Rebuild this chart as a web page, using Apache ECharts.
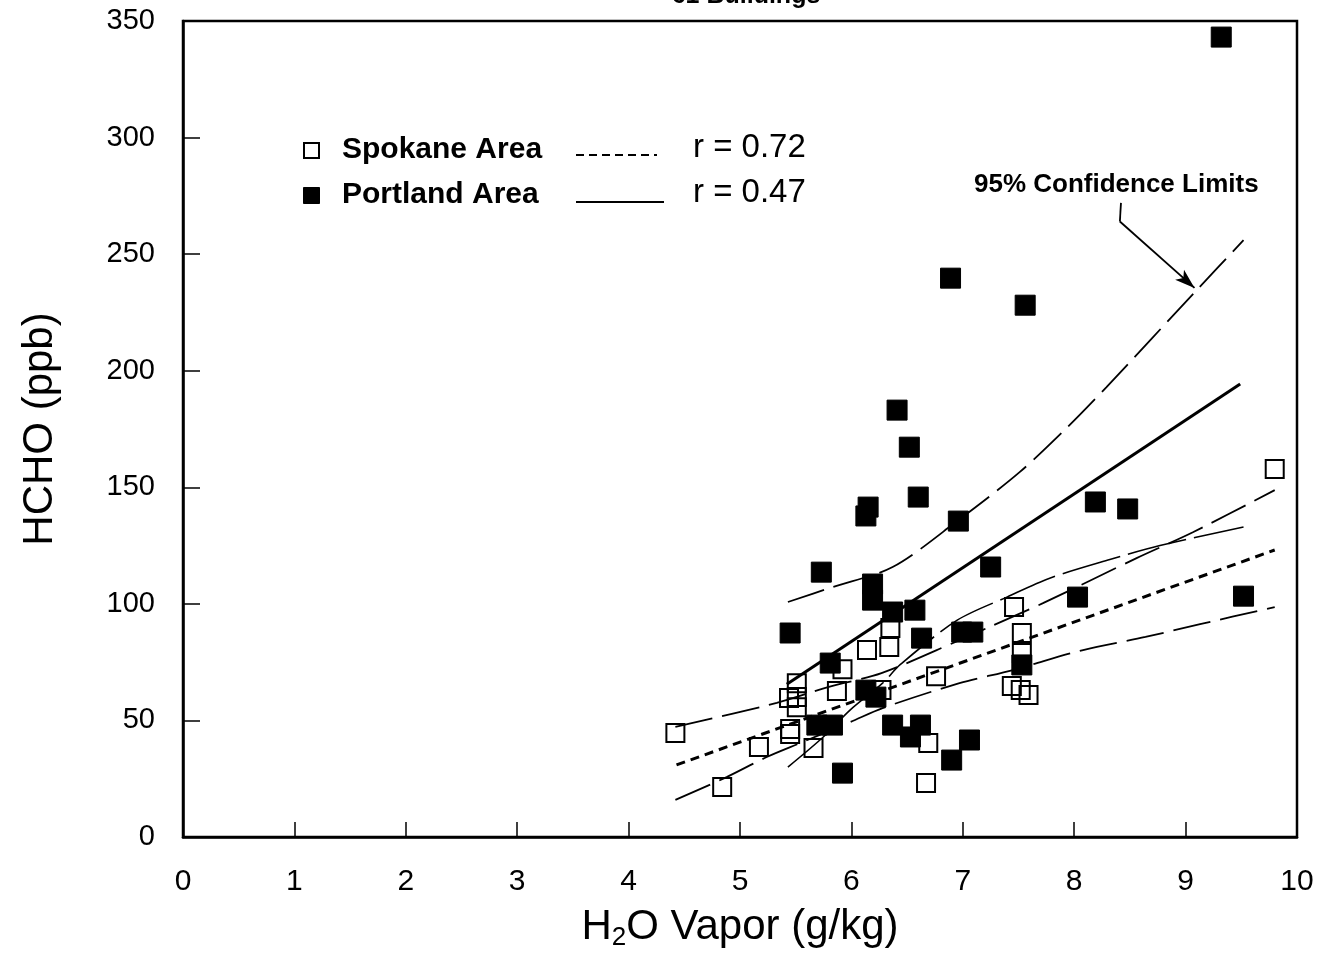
<!DOCTYPE html>
<html>
<head>
<meta charset="utf-8">
<script src="https://cdn.jsdelivr.net/npm/echarts/dist/echarts.min.js"></script>
<style>
html,body{margin:0;padding:0;background:#fff;}
#chart{width:1317px;height:954px;}
</style>
</head>
<body>
<div id="chart"></div>
<script>
// ---- data ----
const titleText = '61 Buildings';
const xTicks = [0,1,2,3,4,5,6,7,8,9,10];
const yTicks = [0,50,100,150,200,250,300,350];

const spokanePoints = [
  [9.80,157.8],[7.46,98.6],[7.53,87.5],[7.53,78.9],[7.44,64.8],[7.52,63.0],[7.59,60.9],
  [6.76,69.0],[6.35,89.6],[6.34,81.5],[6.14,80.2],[6.27,63.0],[6.69,40.3],[6.67,23.2],
  [4.42,44.6],[4.84,21.4],[5.17,38.6],[5.45,46.3],[5.45,44.2],[5.51,66.0],[5.44,59.6],
  [5.51,60.0],[5.51,55.7],[5.87,62.6],[5.92,72.0],[5.66,38.2]
];
const portlandPoints = [
  [9.32,343.1],[6.89,239.7],[7.56,228.1],[6.41,183.1],[6.52,167.2],[6.60,145.8],
  [6.15,141.5],[6.13,137.7],[6.96,135.5],[8.19,143.7],[8.48,140.7],[5.73,113.6],
  [7.25,115.8],[6.19,108.5],[6.19,101.6],[6.37,96.5],[6.57,97.3],[9.52,103.3],
  [8.03,102.9],[5.45,87.5],[6.63,85.3],[6.99,87.9],[7.09,87.9],[5.81,74.6],
  [6.13,63.0],[6.22,60.0],[5.69,48.0],[5.83,48.0],[5.92,27.4],[6.37,48.0],
  [6.62,48.0],[6.53,42.9],[7.06,41.6],[6.90,33.0],[7.53,73.8]
];
const spokaneFit = [[4.43,30.9],[9.80,123.1]];
const spokaneUpper = [[4.42,47.2],[5.33,57.5],[5.79,64.3],[6.27,70.3],[6.95,84.0],[7.24,90.1],[7.72,100.3],[8.56,119.6],[9.07,130.8],[9.80,148.8]];
const spokaneLower = [[4.42,15.9],[4.88,25.7],[5.24,34.3],[5.54,40.3],[5.99,49.3],[6.28,55.3],[6.97,66.0],[7.45,71.6],[8.08,80.2],[8.64,85.8],[9.13,91.3],[9.80,98.6]];
const portlandFit = [[5.42,65.5],[9.49,194.3]];
const portlandUpper = [[5.43,100.8],[5.83,107.2],[6.37,115.8],[6.96,135.9],[7.51,156.5],[7.94,175.8],[8.29,193.0],[9.10,234.6],[9.52,256.0]];
const portlandLower = [[5.43,30.0],[5.75,43.0],[5.99,54.5],[6.28,66.0],[6.44,74.0],[6.95,93.0],[7.40,103.0],[7.78,111.0],[8.32,119.0],[8.77,125.0],[9.52,133.0]];
const leaderPath = [[8.42,272],[8.41,264]];
const leaderArrow = [[8.41,264],[9.08,235.5]];

const legendRows = [
  {name:'Spokane Area', r:'r = 0.72'},
  {name:'Portland Area', r:'r = 0.47'}
];
const annotationText = '95% Confidence Limits';

// ---- chart ----
const FONT = '"Liberation Sans", Arial, Helvetica, sans-serif';
const chart = echarts.init(document.getElementById('chart'), null, {renderer:'canvas'});

function ciLine(data, dash, width, smooth){
  return {
    type:'line', data:data, symbol:'none', smooth:smooth, silent:true, z:3,
    lineStyle:{color:'#000', width:width, type:dash}
  };
}

const option = {
  backgroundColor:'#fff',
  animation:false,
  title:{
    text:titleText, left:741, textAlign:'center', top:-21,
    textStyle:{fontFamily:FONT, fontWeight:'bold', fontSize:25, color:'#000'}
  },
  grid:{left:183, right:20, top:21, bottom:117, outerBoundsMode:'none', containLabel:false,
        show:true, borderColor:'#000', borderWidth:2.5, backgroundColor:'transparent'},
  xAxis:{
    type:'value', min:xTicks[0], max:xTicks[xTicks.length-1], interval:1,
    name:'{n|H}{s|2}{n|O Vapor (g/kg)}', nameLocation:'middle', nameGap:66,
    nameTextStyle:{rich:{
      n:{fontFamily:FONT, fontSize:42, color:'#000'},
      s:{fontFamily:FONT, fontSize:26, color:'#000', verticalAlign:'bottom', padding:[22,0,0,0]}
    }},
    axisLine:{lineStyle:{color:'#000', width:2.5}},
    axisTick:{inside:true, length:15, lineStyle:{color:'#000', width:1.5}},
    splitLine:{show:false},
    axisLabel:{fontFamily:FONT, fontSize:30, color:'#000', margin:30}
  },
  yAxis:{
    type:'value', min:yTicks[0], max:yTicks[yTicks.length-1], interval:50,
    name:'HCHO (ppb)', nameLocation:'middle', nameGap:122, nameRotate:90,
    nameTextStyle:{fontFamily:FONT, fontSize:42, color:'#000'},
    axisLine:{lineStyle:{color:'#000', width:2.5}},
    axisTick:{inside:true, length:17, lineStyle:{color:'#000', width:1.5}},
    splitLine:{show:false},
    axisLabel:{fontFamily:FONT, fontSize:29, color:'#000', margin:28}
  },
  series:[
    ciLine(spokaneUpper, [38,10], 1.8, 0.3),
    ciLine(spokaneLower, [38,10], 1.8, 0.3),
    ciLine(portlandUpper, [38,10], 1.8, 0.3),
    ciLine(portlandLower, [60,8], 1.6, 0.3),
    ciLine(spokaneFit, [9,6], 3, false),
    ciLine(portlandFit, 'solid', 3, false),
    {
      name:'Portland Area', type:'scatter', data:portlandPoints, symbol:'rect', symbolSize:20, z:5,
      itemStyle:{color:'#000', borderColor:'#000', borderWidth:1, opacity:1}
    },
    {
      name:'Spokane Area', type:'scatter', data:spokanePoints, symbol:'rect', symbolSize:18, z:6,
      itemStyle:{color:'rgba(255,255,255,0)', borderColor:'#000', borderWidth:2, opacity:1}
    },
    {
      type:'line', data:leaderPath, symbol:'none', silent:true, z:4,
      lineStyle:{color:'#000', width:1.8},
      markLine:{
        silent:true, symbol:['none','arrow'], symbolSize:[10,20], animation:false,
        label:{show:false},
        lineStyle:{color:'#000', width:1.8, type:'solid'},
        data:[[{coord:leaderArrow[0]},{coord:leaderArrow[1]}]]
      }
    }
  ],
  graphic:[
    // legend row 1
    {type:'rect', left:303, top:142, shape:{width:15, height:15}, style:{fill:'#fff', stroke:'#000', lineWidth:2}},
    {type:'text', left:342, top:135, style:{text:legendRows[0].name, font:'bold 30px '+FONT, fill:'#000'}},
    {type:'line', shape:{x1:576, y1:155, x2:657, y2:155}, style:{stroke:'#000', lineWidth:2, lineDash:[8,5]}},
    {type:'text', left:693, top:131, style:{text:legendRows[0].r, font:'33px '+FONT, fill:'#000'}},
    // legend row 2
    {type:'rect', left:303, top:187, shape:{width:16, height:16}, style:{fill:'#000', stroke:'#000', lineWidth:1}},
    {type:'text', left:342, top:180, style:{text:legendRows[1].name, font:'bold 30px '+FONT, fill:'#000'}},
    {type:'line', shape:{x1:576, y1:202, x2:664, y2:202}, style:{stroke:'#000', lineWidth:2}},
    {type:'text', left:693, top:176, style:{text:legendRows[1].r, font:'33px '+FONT, fill:'#000'}},
    // annotation
    {type:'text', left:974, top:172, style:{text:annotationText, font:'bold 26px '+FONT, fill:'#000'}}
  ]
};
chart.setOption(option);
</script>
</body>
</html>
